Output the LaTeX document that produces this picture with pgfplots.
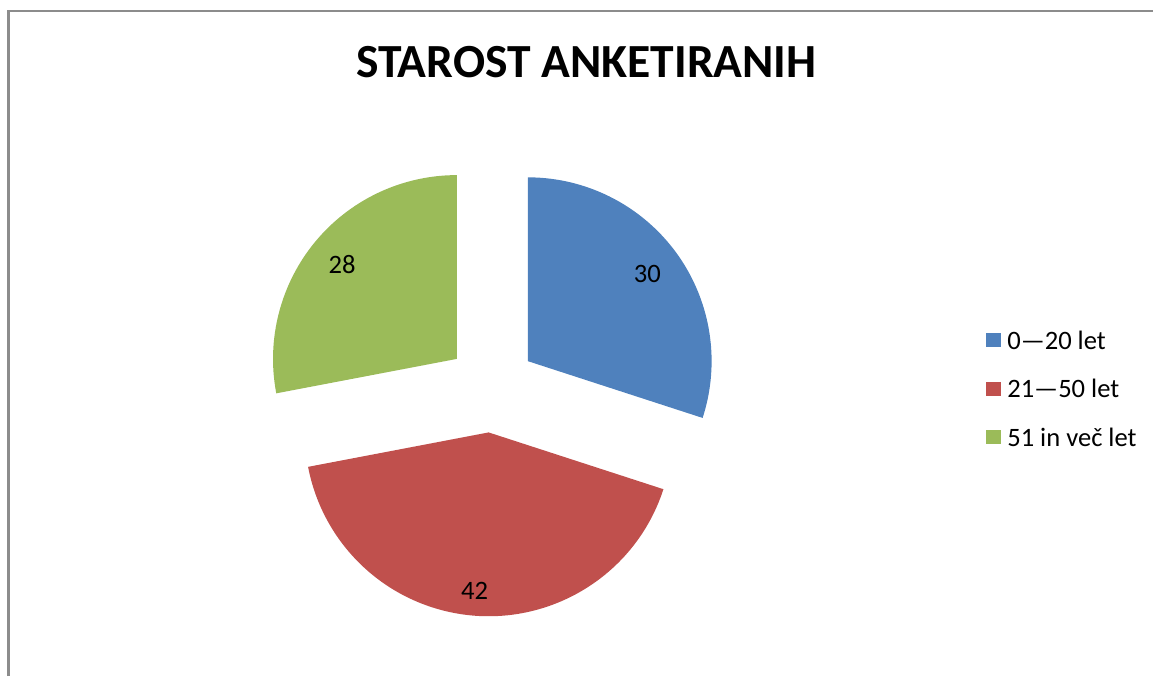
\documentclass[border=0pt]{standalone}
\usepackage{pgfplots}
\pgfplotsset{compat=1.18}
\usepackage{fontspec}
\setmainfont{Carlito}
\definecolor{sBlue}{HTML}{4F81BD}
\definecolor{sRed}{HTML}{C0504D}
\definecolor{sGreen}{HTML}{9BBB59}
\definecolor{frame}{HTML}{8C8C8C}

% pie values (shares of respondents)
\def\vA{30}
\def\vB{42}
\def\vC{28}
% geometry in picture units (1 unit = 0.5pt)
\def\cx{492}\def\cy{289}\def\rad{92pt}\def\off{45}
\def\labA{148}\def\labB{159}\def\labC{149}

\pgfmathsetmacro\tot{\vA+\vB+\vC}
\pgfmathsetmacro\aA{90}
\pgfmathsetmacro\aB{\aA-360*\vA/\tot}
\pgfmathsetmacro\aC{\aB-360*\vB/\tot}
\pgfmathsetmacro\aD{\aC-360*\vC/\tot}
\pgfmathsetmacro\mA{(\aA+\aB)/2}
\pgfmathsetmacro\mB{(\aB+\aC)/2}
\pgfmathsetmacro\mC{(\aC+\aD)/2}
\pgfmathsetmacro\xA{\cx+\off*cos(\mA)}\pgfmathsetmacro\yA{\cy+\off*sin(\mA)}
\pgfmathsetmacro\xB{\cx+\off*cos(\mB)}\pgfmathsetmacro\yB{\cy+\off*sin(\mB)}
\pgfmathsetmacro\xC{\cx+\off*cos(\mC)}\pgfmathsetmacro\yC{\cy+\off*sin(\mC)}
\pgfmathsetmacro\lxA{\xA+\labA*cos(\mA)}\pgfmathsetmacro\lyA{\yA+\labA*sin(\mA)}
\pgfmathsetmacro\lxB{\xB+\labB*cos(\mB-1.5)}\pgfmathsetmacro\lyB{\yB+\labB*sin(\mB-1.5)}
\pgfmathsetmacro\lxC{\xC+\labC*cos(\mC)}\pgfmathsetmacro\lyC{\yC+\labC*sin(\mC)}

\begin{document}
\begin{tikzpicture}
\begin{axis}[
    width=577pt, height=338.5pt, scale only axis,
    hide axis, clip=false,
    xmin=0, xmax=1154, ymin=0, ymax=677,
]
\path (axis cs:0,0) rectangle (axis cs:1154,677);
\draw[frame, line width=1.3pt] (axis cs:8.7,0) -- (axis cs:8.7,666) -- (axis cs:1154,666);

\node[font=\fontsize{23.8}{28}\selectfont\bfseries] at (axis cs:587,615) {STAROST ANKETIRANIH};

\fill[sBlue] (axis cs:\xA,\yA) -- ++(\aA:\rad) arc[start angle=\aA, end angle=\aB, radius=\rad] -- cycle;
\fill[sRed] (axis cs:\xB,\yB) -- ++(\aB:\rad) arc[start angle=\aB, end angle=\aC, radius=\rad] -- cycle;
\fill[sGreen] (axis cs:\xC,\yC) -- ++(\aC:\rad) arc[start angle=\aC, end angle=\aD, radius=\rad] -- cycle;

\node[font=\fontsize{13.3}{15}\selectfont] at (axis cs:\lxA,\lyA) {\vA};
\node[font=\fontsize{13.3}{15}\selectfont] at (axis cs:\lxB,\lyB) {\vB};
\node[font=\fontsize{13.3}{15}\selectfont] at (axis cs:\lxC,\lyC) {\vC};

% legend
\fill[sBlue] (axis cs:987,329.5) rectangle (axis cs:1002,343.5);
\fill[sRed] (axis cs:987,281) rectangle (axis cs:1002,295);
\fill[sGreen] (axis cs:987,232.5) rectangle (axis cs:1002,246.5);
\node[font=\fontsize{13.3}{15}\selectfont, anchor=west, inner sep=0pt] at (axis cs:1008,336.5) {0—20 let};
\node[font=\fontsize{13.3}{15}\selectfont, anchor=west, inner sep=0pt] at (axis cs:1008,288) {21—50 let};
\node[font=\fontsize{13.3}{15}\selectfont, anchor=west, inner sep=0pt] at (axis cs:1008,239.5) {51 in več let};
\end{axis}
\end{tikzpicture}
\end{document}
